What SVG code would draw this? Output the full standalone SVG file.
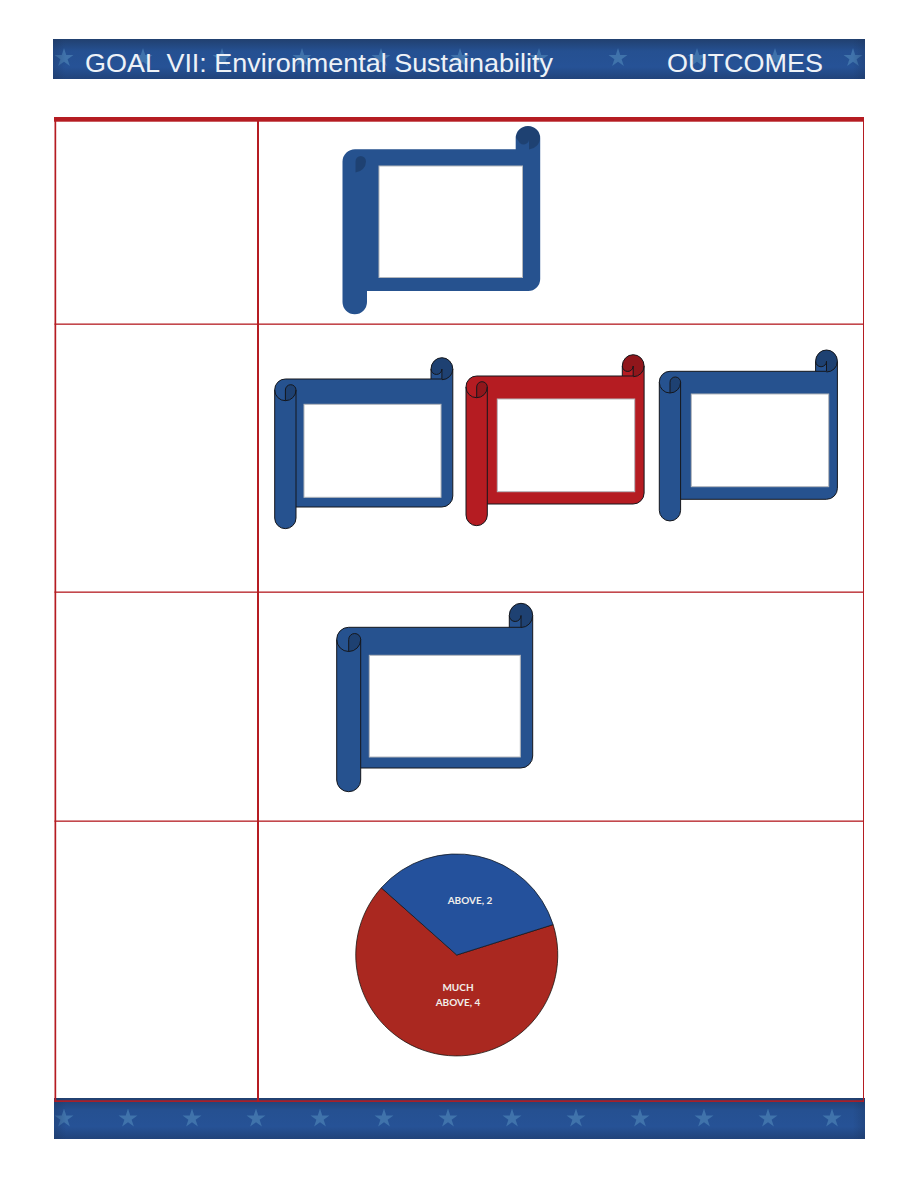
<svg xmlns="http://www.w3.org/2000/svg" xmlns:xlink="http://www.w3.org/1999/xlink" width="918" height="1188" viewBox="0 0 918 1188">
<style>
.bar{fill:url(#barV)}
.vig{fill:url(#barH)}
.star{fill:#4479b0}
.title{font-family:"Liberation Sans",Arial,sans-serif;font-size:26.5px;fill:#eef2f7}
.rule{fill:#b51c22}
.blue{color:#26528f;fill:#26528f}
.crimson{color:#b51c22;fill:#b51c22}
.edge{stroke:#15171c;stroke-width:1;fill:none}
.curl{fill:#000;fill-opacity:.2}
.win{fill:#fff;stroke:#b4b7bc;stroke-width:1}
.lab{font-family:Lato,"Open Sans",sans-serif;font-size:10px;font-weight:700;fill:#f1eeea;text-anchor:middle}
</style>
<defs>
<linearGradient id="barV" x1="0" y1="0" x2="0" y2="1">
<stop offset="0" stop-color="#21406f"/><stop offset=".3" stop-color="#255091"/><stop offset=".7" stop-color="#265296"/><stop offset="1" stop-color="#21437a"/>
</linearGradient>
<linearGradient id="barH" x1="0" y1="0" x2="1" y2="0">
<stop offset="0" stop-color="#1c3560" stop-opacity=".35"/><stop offset=".015" stop-color="#1c3560" stop-opacity="0"/><stop offset=".985" stop-color="#1c3560" stop-opacity="0"/><stop offset="1" stop-color="#1c3560" stop-opacity=".35"/>
</linearGradient>
<filter id="soft" x="-20%" y="-20%" width="140%" height="140%"><feGaussianBlur stdDeviation=".6"/></filter>
<polygon id="st" points="0,-10 2.24,-3.09 9.51,-3.09 3.63,1.18 5.88,8.09 0,3.82 -5.88,8.09 -3.63,1.18 -9.51,-3.09 -2.24,-3.09"/>
<g id="scroll">
<path d="M274.7,390 A10.7,10.7 0 0 1 285.4,379 L431,379 L431,369 A10.9,11.3 0 0 1 452.8,369 L452.8,496 A11,11 0 0 1 441.8,507 L296,507 L296,518 A10.65,10.65 0 0 1 274.7,518 Z"/>
<path class="curl" d="M431,369 A10.9,11.3 0 0 1 452.8,369 A10.9,10.7 0 0 1 441.9,379.7 L441.9,369 A5.45,5.45 0 0 1 431,369 Z"/>
<path class="curl" d="M285.4,400.7 L285.4,390 A5.3,5.3 0 0 1 296,390 A10.6,10.7 0 0 1 285.4,400.7 Z"/>
<path class="edge" d="M274.7,390 A10.7,10.7 0 0 1 285.4,379 L441.9,379 M431,379 L431,369 A10.9,11.3 0 0 1 452.8,369 L452.8,496 A11,11 0 0 1 441.8,507 L296,507 M296,518 A10.65,10.65 0 0 1 274.7,518 L274.7,390"/>
<path class="edge" d="M296,390 L296,518 M274.7,390 A10.65,10.7 0 0 0 296,390 M285.4,400.7 L285.4,390 A5.3,5.3 0 0 1 296,390 M431,369 A5.45,5.45 0 0 0 441.9,369 L441.9,379 M452.8,369 A10.9,10.7 0 0 1 441.9,379.7"/>
</g>
</defs>

<g id="header">
<rect class="bar" x="53" y="39" width="812" height="40"/>
<g class="star" filter="url(#soft)" opacity=".85">
<use xlink:href="#st" transform="translate(64,58)"/><use xlink:href="#st" transform="translate(143,58)"/><use xlink:href="#st" transform="translate(222,58)"/><use xlink:href="#st" transform="translate(302,58)"/><use xlink:href="#st" transform="translate(381,58)"/><use xlink:href="#st" transform="translate(460,58)"/><use xlink:href="#st" transform="translate(539,58)"/><use xlink:href="#st" transform="translate(618,58)"/><use xlink:href="#st" transform="translate(697,58)"/><use xlink:href="#st" transform="translate(775,58)"/><use xlink:href="#st" transform="translate(853,58)"/>
</g>
<rect class="vig" x="53" y="39" width="812" height="40"/>
<text class="title" x="85" y="72" textLength="468" lengthAdjust="spacingAndGlyphs">GOAL VII: Environmental Sustainability</text>
<text class="title" x="667" y="72" textLength="156" lengthAdjust="spacingAndGlyphs">OUTCOMES</text>
</g>

<g id="footer">
<rect class="bar" x="54" y="1098" width="811" height="41"/>
<g class="star" filter="url(#soft)" opacity=".85">
<use xlink:href="#st" transform="translate(64,1118.5)"/><use xlink:href="#st" transform="translate(128,1118.5)"/><use xlink:href="#st" transform="translate(192,1118.5)"/><use xlink:href="#st" transform="translate(256,1118.5)"/><use xlink:href="#st" transform="translate(320,1118.5)"/><use xlink:href="#st" transform="translate(384,1118.5)"/><use xlink:href="#st" transform="translate(448,1118.5)"/><use xlink:href="#st" transform="translate(512,1118.5)"/><use xlink:href="#st" transform="translate(576,1118.5)"/><use xlink:href="#st" transform="translate(640,1118.5)"/><use xlink:href="#st" transform="translate(704,1118.5)"/><use xlink:href="#st" transform="translate(768,1118.5)"/><use xlink:href="#st" transform="translate(832,1118.5)"/>
</g>
<rect class="vig" x="54" y="1098" width="811" height="41"/>
</g>

<g id="table">
<rect class="rule" x="54" y="117" width="810" height="4.7"/>
<rect class="rule" x="54.5" y="117" width="1.7" height="985"/>
<rect class="rule" x="257" y="117" width="2" height="985"/>
<rect class="rule" x="863" y="117" width="1" height="985"/>
<rect class="rule" x="54.5" y="323.5" width="809.5" height="1.3"/>
<rect class="rule" x="54.5" y="591.5" width="809.5" height="1.3"/>
<rect class="rule" x="54.5" y="820.5" width="809.5" height="1.3"/>
<rect class="rule" x="54.5" y="1100.3" width="809.5" height="1.6"/>
</g>

<g id="scroll-1" class="blue">
<path d="M342.5,161.5 A12.5,12.5 0 0 1 355,149.3 L515.7,149.3 L515.7,138 A12.2,12 0 0 1 540.2,138 L540.2,279 A12,12 0 0 1 528.2,291 L367,291 L367,302 A12.2,12.2 0 0 1 342.5,302 Z"/>
<path class="curl" d="M515.9,138 A12,12 0 0 1 540,138 A12,11.5 0 0 1 529,149.5 L529,138 A5.5,5.5 0 0 1 518.5,141 Z"/>
<path class="curl" d="M355.5,172.5 L355.5,161.5 A5.2,5.5 0 0 1 366,161.5 A11,11 0 0 1 355.5,172.5 Z"/>
<rect class="win" x="379" y="166" width="143.5" height="111.5"/>
</g>

<g id="scroll-2" class="blue">
<use xlink:href="#scroll"/>
<rect class="win" x="304" y="404.3" width="137" height="93"/>
</g>
<g id="scroll-3" class="crimson">
<use xlink:href="#scroll" transform="translate(191.3,-3)"/>
<rect class="win" x="497.3" y="399" width="137.4" height="92.7"/>
</g>
<g id="scroll-4" class="blue">
<use xlink:href="#scroll" transform="translate(384.6,-7.7)"/>
<rect class="win" x="691.3" y="394" width="137.4" height="92.7"/>
</g>

<g id="scroll-5" class="blue">
<path d="M336.7,639.5 A12,12 0 0 1 348.7,627.3 L509.3,627.3 L509.3,615.5 A11.7,12.2 0 0 1 532.7,615.5 L532.7,756 A12,12 0 0 1 520.7,768 L360.7,768 L360.7,780 A12,11.7 0 0 1 336.7,780 Z"/>
<path class="curl" d="M509.3,615.5 A11.7,12.2 0 0 1 532.7,615.5 A11.7,12 0 0 1 521,627.5 L521,615.5 A5.85,6 0 0 1 509.3,615.5 Z"/>
<path class="curl" d="M348.7,651.5 L348.7,639.5 A6,6 0 0 1 360.7,639.5 A12,12 0 0 1 348.7,651.5 Z"/>
<path class="edge" d="M336.7,639.5 A12,12 0 0 1 348.7,627.3 L521,627.3 M509.3,627.3 L509.3,615.5 A11.7,12.2 0 0 1 532.7,615.5 L532.7,756 A12,12 0 0 1 520.7,768 L360.7,768 M360.7,780 A12,11.7 0 0 1 336.7,780 L336.7,639.5"/>
<path class="edge" d="M360.7,639.5 L360.7,780 M336.7,639.5 A12,12 0 0 0 360.7,639.5 M348.7,651.5 L348.7,639.5 A6,6 0 0 1 360.7,639.5 M509.3,615.5 A5.85,6 0 0 0 521,615.5 L521,627 M532.7,615.5 A11.7,12 0 0 1 521,627.5"/>
<rect class="win" x="369.3" y="655.3" width="151" height="101.7"/>
</g>

<g id="pie">
<path d="M456.8,955 L553.1,924.6 A101,101 0 1 1 381.3,887.8 Z" fill="#aa2820" stroke="#1c1512" stroke-width=".8"/>
<path d="M456.8,955 L381.3,887.8 A101,101 0 0 1 553.1,924.6 Z" fill="#24519c" stroke="#141a24" stroke-width=".8"/>
<text class="lab" x="470" y="904">ABOVE, 2</text>
<text class="lab" x="458" y="990.5">MUCH</text>
<text class="lab" x="458" y="1005.5">ABOVE, 4</text>
</g>
</svg>
